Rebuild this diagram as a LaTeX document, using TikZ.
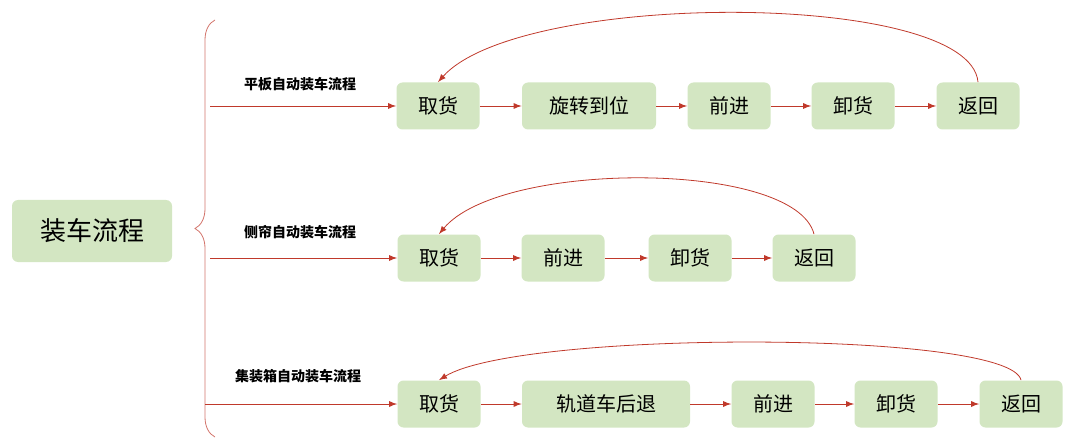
\documentclass[tikz,border=0pt]{standalone}
\usepackage{fontspec}
\setmainfont{Noto Sans CJK SC}
\usetikzlibrary{arrows, positioning, decorations.pathreplacing}
\definecolor{boxgreen}{HTML}{D3E6C2}
\definecolor{flowred}{HTML}{C0392B}

\begin{document}
\begin{tikzpicture}[
  x=0.5pt, y=-0.5pt,
  step box/.style={draw=none, fill=boxgreen, rounded corners=3pt, minimum height=23.5pt, font=\fontsize{10}{12}\selectfont, inner xsep=6pt},
  flow/.style={-latex, flowred, thin},
  back/.style={-latex, flowred, thin},
  rowlabel/.style={font=\fontsize{7}{8}\selectfont\bfseries, anchor=south},
]
\useasboundingbox (0,0) rectangle (1080,443);

%main node
\node[step box, minimum width=80pt, minimum height=31pt, font=\fontsize{13}{15}\selectfont] (main) at (92,231) {装车流程};
\draw[flowred!70, decorate, decoration={brace, amplitude=10pt, mirror}] (215,20) -- (215,437);

%row one
\node[step box, minimum width=41.5pt] (a1) at (438,106) {取货};
\node[step box, minimum width=67pt]   (a2) at (589,106) {旋转到位};
\node[step box, minimum width=41.5pt] (a3) at (729,106) {前进};
\node[step box, minimum width=41.5pt] (a4) at (853,106) {卸货};
\node[step box, minimum width=41.5pt] (a5) at (978,106) {返回};
\coordinate (s1) at (210,106);
\node[rowlabel] (l1) at (300,98) {平板自动装车流程};
\draw[flow] (s1) -- (a1);
\foreach \i/\j in {a1/a2, a2/a3, a3/a4, a4/a5} \draw[flow] (\i) -- (\j);
\draw[back] (a5.north) .. controls (970,-10) and (520,-10) .. (a1.north);

%row two
\node[step box, minimum width=41.5pt] (b1) at (439,258) {取货};
\node[step box, minimum width=41.5pt] (b2) at (563,258) {前进};
\node[step box, minimum width=41.5pt] (b3) at (690,258) {卸货};
\node[step box, minimum width=41.5pt] (b4) at (814,258) {返回};
\coordinate (s2) at (210,258);
\node[rowlabel] (l2) at (300,246) {侧帘自动装车流程};
\draw[flow] (s2) -- (b1);
\foreach \i/\j in {b1/b2, b2/b3, b3/b4} \draw[flow] (\i) -- (\j);
\draw[back] (b4.north) .. controls (795,160) and (500,160) .. (b1.north);

%row three
\node[step box, minimum width=41.5pt] (c1) at (439,404) {取货};
\node[step box, minimum width=84pt]   (c2) at (606,404) {轨道车后退};
\node[step box, minimum width=41.5pt] (c3) at (773,404) {前进};
\node[step box, minimum width=41.5pt] (c4) at (896,404) {卸货};
\node[step box, minimum width=41.5pt] (c5) at (1021,404) {返回};
\coordinate (s3) at (205,404);
\node[rowlabel] (l3) at (298,390) {集装箱自动装车流程};
\draw[flow] (s3) -- (c1);
\foreach \i/\j in {c1/c2, c2/c3, c3/c4, c4/c5} \draw[flow] (\i) -- (\j);
\draw[back] (c5.north) .. controls (1010,330) and (520,330) .. (c1.north);

\end{tikzpicture}
\end{document}
